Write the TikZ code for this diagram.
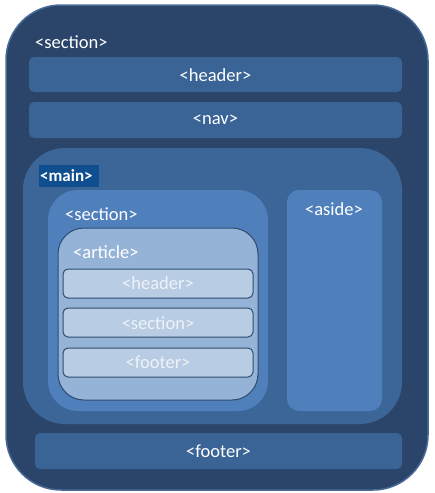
\documentclass[tikz,border=0pt]{standalone}
\usepackage{fontspec}
\setmainfont{Carlito}
\definecolor{outerc}{HTML}{2A4569}
\definecolor{rimc}{HTML}{4A6A96}
\definecolor{barc}{HTML}{3A6396}
\definecolor{mainc}{HTML}{3C6598}
\definecolor{secc}{HTML}{4F80BC}
\definecolor{artc}{HTML}{95B3D7}
\definecolor{boxc}{HTML}{B8CCE4}
\definecolor{edgec}{HTML}{2F4B70}
\definecolor{tagc}{HTML}{0F4F8F}
\definecolor{lightt}{HTML}{EEF3F9}
\tikzset{
  px/.style={x=1pt,y=-1pt},
  fs/.style={font=\fontsize{18.5}{20}\selectfont},
  lbl/.style={text=white,fs,inner sep=0pt,anchor=west},
  ctext/.style={text=white,fs,inner sep=0pt},
  itext/.style={text=lightt,fs,inner sep=0pt},
}
\begin{document}
\begin{tikzpicture}[px]
\useasboundingbox (0,0) rectangle (435,493);
\fill[white] (0,0) rectangle (435,493);
% outer section
\draw[fill=outerc,draw=rimc,line width=1.5pt,rounded corners=55pt] (6,5) rectangle (428,490);
\node[lbl] (sec1) at (35,42) {<section>};
% header / nav
\fill[barc,rounded corners=5pt] (29,57) rectangle (402,92);
\node[ctext] (hdr) at (215.5,75) {<header>};
\fill[barc,rounded corners=5pt] (29,102) rectangle (402,138);
\node[ctext] (nav) at (215.5,120) {<nav>};
% main
\fill[mainc,rounded corners=42pt] (23,148) rectangle (402,424);
\fill[tagc] (39,165) rectangle (99,187);
\node[lbl,font=\bfseries\fontsize{17}{19}\selectfont] (main) at (40,176) {<main>};
% section
\fill[secc,rounded corners=30pt] (48,190) rectangle (268,411);
\node[lbl] (sec2) at (65,214) {<section>};
% aside
\fill[secc,rounded corners=12pt] (287,190) rectangle (382,411);
\node[ctext] (aside) at (334,209) {<aside>};
% article
\draw[fill=artc,draw=edgec,line width=1pt,rounded corners=26pt] (58,228) rectangle (258,400);
\node[lbl] (art) at (73,252) {<article>};
\draw[fill=boxc,draw=edgec,line width=1pt,rounded corners=5pt] (63,269) rectangle (253,298);
\node[itext] (ihdr) at (158,283) {<header>};
\draw[fill=boxc,draw=edgec,line width=1pt,rounded corners=5pt] (63,308) rectangle (253,337);
\node[itext] (isec) at (158,323) {<section>};
\draw[fill=boxc,draw=edgec,line width=1pt,rounded corners=5pt] (63,348) rectangle (253,377);
\node[itext] (ifoot) at (158,362) {<footer>};
% footer
\fill[barc,rounded corners=5pt] (35,433) rectangle (402,469);
\node[ctext] (foot) at (218.5,451) {<footer>};
\end{tikzpicture}
\end{document}
